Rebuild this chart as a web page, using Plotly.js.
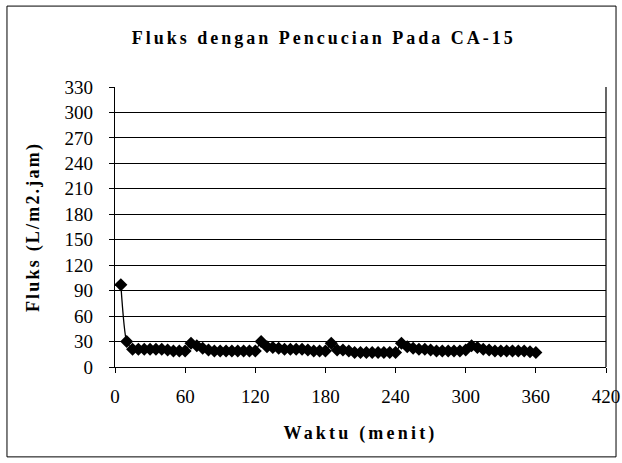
<!DOCTYPE html>
<html>
<head>
<meta charset="utf-8">
<script src="https://cdn.plot.ly/plotly-3.0.1.min.js"></script>
<style>
html,body{margin:0;padding:0;background:#fff;}
#chart{width:622px;height:463px;}
#chart .gtitle{letter-spacing:3px;}
#chart .xtitle{letter-spacing:3.2px;}
#chart .ytitle{letter-spacing:2.2px;}
</style>
</head>
<body>
<div id="chart"></div>
<script>
var waktu = [5,10,15,20,25,30,35,40,45,50,55,60,
  65,70,75,80,85,90,95,100,105,110,115,120,
  125,130,135,140,145,150,155,160,165,170,175,180,
  185,190,195,200,205,210,215,220,225,230,235,240,
  245,250,255,260,265,270,275,280,285,290,295,300,
  305,310,315,320,325,330,335,340,345,350,355,360];
var fluks = [97,30,21,21,21,21,21,21,20,19,19,19,
  28,25,22,20,19,19,19,19,19,19,19,19,
  30,24,23,22,21,21,21,21,20,19,19,19,
  28,20,20,19,17,17,17,17,17,17,17,17,
  28,24,22,21,21,20,19,19,19,19,19,20,
  25,23,21,20,19,19,19,19,19,19,18,17];
var xTicks = [0,60,120,180,240,300,360,420];
var yTicks = [0,30,60,90,120,150,180,210,240,270,300,330];
var chartTitle = "Fluks dengan Pencucian Pada CA-15";
var xTitle = "Waktu (menit)";
var yTitle = "Fluks (L/m2.jam)";

var serif = "Liberation Serif";
var trace = {
  x: waktu, y: fluks, type: "scatter", mode: "lines+markers",
  line: {color: "#000", width: 1.3, shape: "spline", smoothing: 0.6},
  marker: {symbol: "diamond", color: "#000", size: 10},
  showlegend: false, hoverinfo: "skip"
};
var layout = {
  width: 622, height: 463,
  margin: {l: 115, r: 16, t: 87, b: 96},
  paper_bgcolor: "#fff", plot_bgcolor: "#fff",
  font: {family: serif, color: "#000", size: 19},
  title: {text: "<b>" + chartTitle + "</b>", font: {family: serif, size: 18, color: "#000"},
    x: 0.425, xref: "paper", xanchor: "center", y: 0.918, yref: "container", yanchor: "middle"},
  xaxis: {range: [0, 420], tickvals: xTicks, ticktext: xTicks.map(String),
    showgrid: false, zeroline: false, showline: true, linecolor: "#000", linewidth: 1.2,
    ticks: "outside", ticklen: 5, tickcolor: "#000", ticklabelstandoff: 7,
    tickfont: {family: serif, size: 19, color: "#000"},
    title: {text: "<b>" + xTitle + "</b>", font: {family: serif, size: 18, color: "#000"}, standoff: 20},
    mirror: false, fixedrange: true},
  yaxis: {range: [0, 330], tickvals: yTicks, ticktext: yTicks.map(String),
    showgrid: true, gridcolor: "#000", gridwidth: 1, zeroline: false,
    showline: true, linecolor: "#000", linewidth: 1.2,
    ticks: "outside", ticklen: 5, tickcolor: "#000", ticklabelstandoff: 12,
    tickfont: {family: serif, size: 19, color: "#000"},
    title: {text: "<b>" + yTitle + "</b>", font: {family: serif, size: 18, color: "#000"}, standoff: 20},
    fixedrange: true},
  shapes: [
    {type: "line", xref: "paper", yref: "paper", x0: 1, x1: 1, y0: 0, y1: 1, line: {color: "#000", width: 1.2}},
    {type: "rect", xref: "paper", yref: "paper", x0: -0.22, x1: 1.0204, y0: -0.321, y1: 1.289,
     line: {color: "#000", width: 1}, fillcolor: "rgba(0,0,0,0)"}
  ]
};
Plotly.newPlot("chart", [trace], layout, {displayModeBar: false, staticPlot: true});
</script>
</body>
</html>
